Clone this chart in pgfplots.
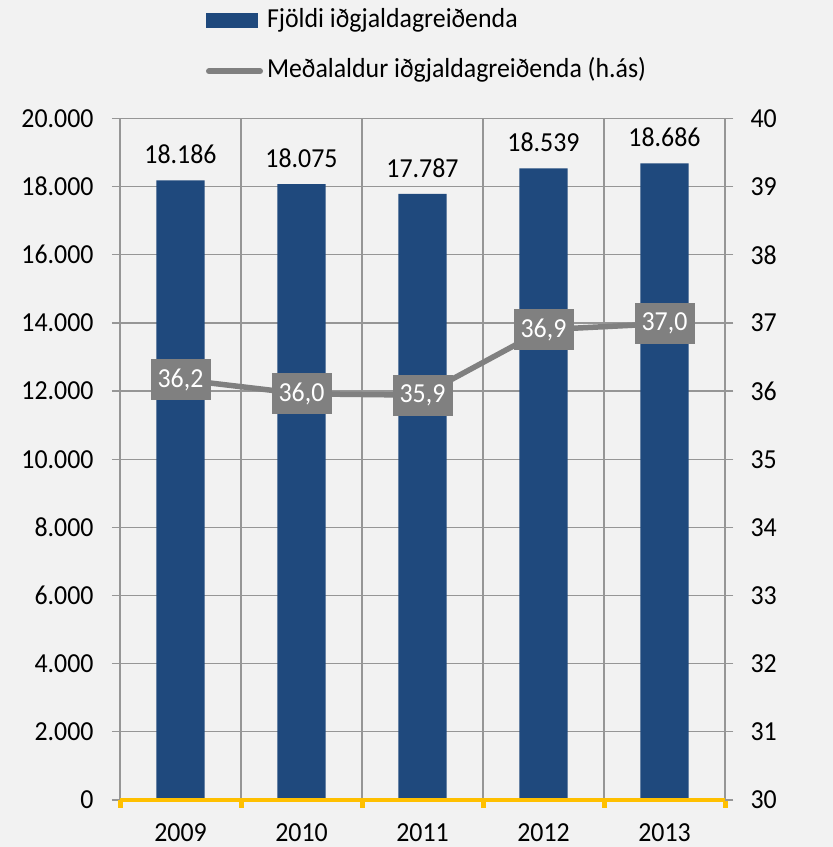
\documentclass[border=0pt]{standalone}
\usepackage{fontspec}
\setmainfont{Carlito}[FakeStretch=0.94]
\usepackage{pgfplots}
\pgfplotsset{compat=1.18}
\usetikzlibrary{backgrounds}
\definecolor{bg}{HTML}{F2F2F2}
\definecolor{barblue}{HTML}{1F497D}
\definecolor{linegray}{HTML}{808080}
\definecolor{gridc}{HTML}{969696}
\definecolor{axyellow}{HTML}{FFC000}

\begin{document}
\begin{tikzpicture}[font=\fontsize{27.5}{33}\selectfont]
\begin{axis}[
 name=ax1,
 scale only axis, width=605pt, height=681.5pt,
 xmin=-0.5, xmax=4.5, ymin=0, ymax=20000,
 xtick={0,1,2,3,4}, xticklabels={2009,2010,2011,2012,2013},
 minor xtick={-0.5,0.5,1.5,2.5,3.5,4.5},
 xminorgrids,
 minor x grid style={gridc, line width=1.3pt},
 ytick={0,2000,...,20000},
 ymajorgrids, major y grid style={gridc, line width=1.3pt},
 x tick style={draw=none},
 y tick style={gridc, line width=1.3pt},
 tick align=outside, major tick length=8pt,
 axis line style={draw=none},
 scaled y ticks=false,
 /pgf/number format/assume math mode=true,
 yticklabel style={/pgf/number format/1000 sep={.}, xshift=-15pt},
 xticklabel style={inner sep=0pt, yshift=-15pt},
 legend style={draw=none, fill=none, inner sep=0pt, outer sep=0pt,
   at={(axis description cs:0,1)}, anchor=north west, xshift=86pt, yshift=111pt,
   nodes={inner sep=0pt, text height=20pt, text depth=7pt, anchor=west},
   row sep=23.4pt, column sep=4pt},
 legend cell align=left,
]
\addplot[ybar, fill=barblue, draw=none, bar width=0.4,
  nodes near coords={\pgfmathprintnumber[1000 sep={.}]{\pgfplotspointmeta}},
  every node near coord/.append style={anchor=south, inner sep=0pt, yshift=16pt, text=black},
  legend image code/.code={\fill[barblue] (0pt,-7pt) rectangle (52pt,8pt);}]
  coordinates {(0,18186) (1,18075) (2,17787) (3,18539) (4,18686)};
\addlegendentry{Fjöldi iðgjaldagreiðenda}
\addlegendimage{legend image code/.code={\draw[linegray, line width=6pt, line cap=round] (3pt,0pt) -- (54pt,0pt);}}
\addlegendentry{Meðalaldur iðgjaldagreiðenda (h.ás)}
\end{axis}
\begin{axis}[
 scale only axis, width=605pt, height=681.5pt,
 xmin=-0.5, xmax=4.5, ymin=30, ymax=40,
 axis x line*=bottom, axis y line*=right,
 x axis line style={draw=axyellow, line width=4.5pt},
 y axis line style={draw=none},
 xtick={-0.5,0.5,1.5,2.5,3.5,4.5}, xticklabels={,,,,,},
 x tick style={draw=axyellow, line width=5pt},
 ytick={30,31,...,40},
 y tick style={gridc, line width=1.3pt},
 tick align=outside, major tick length=8pt,
 /pgf/number format/assume math mode=true,
 yticklabel style={xshift=14pt},
]
\addplot[linegray, line width=5.5pt, mark=none, line join=round,
  nodes near coords={\pgfmathprintnumber[fixed,fixed zerofill,precision=1,use comma]{\pgfplotspointmeta}},
  every node near coord/.append style={anchor=center, fill=linegray, text=white,
    minimum width=60pt, minimum height=41pt, inner sep=0pt}]
  coordinates {(0,36.17) (1,35.96) (2,35.94) (3,36.90) (4,36.99)};
\node[anchor=base west, font=\fontsize{27.5}{33}\selectfont\bfseries, inner sep=0pt]
  at (axis cs:4.5,35) [xshift=68pt, yshift=-9pt] {Ár};
\end{axis}
\begin{scope}[on background layer]
\fill[bg] ([xshift=-120pt,yshift=-47pt]ax1.south west) rectangle ([xshift=108pt,yshift=118.5pt]ax1.north east);
\end{scope}
\pgfresetboundingbox
\path[use as bounding box] ([xshift=-120pt,yshift=-47pt]ax1.south west) rectangle ([xshift=108pt,yshift=118.5pt]ax1.north east);
\end{tikzpicture}
\end{document}
